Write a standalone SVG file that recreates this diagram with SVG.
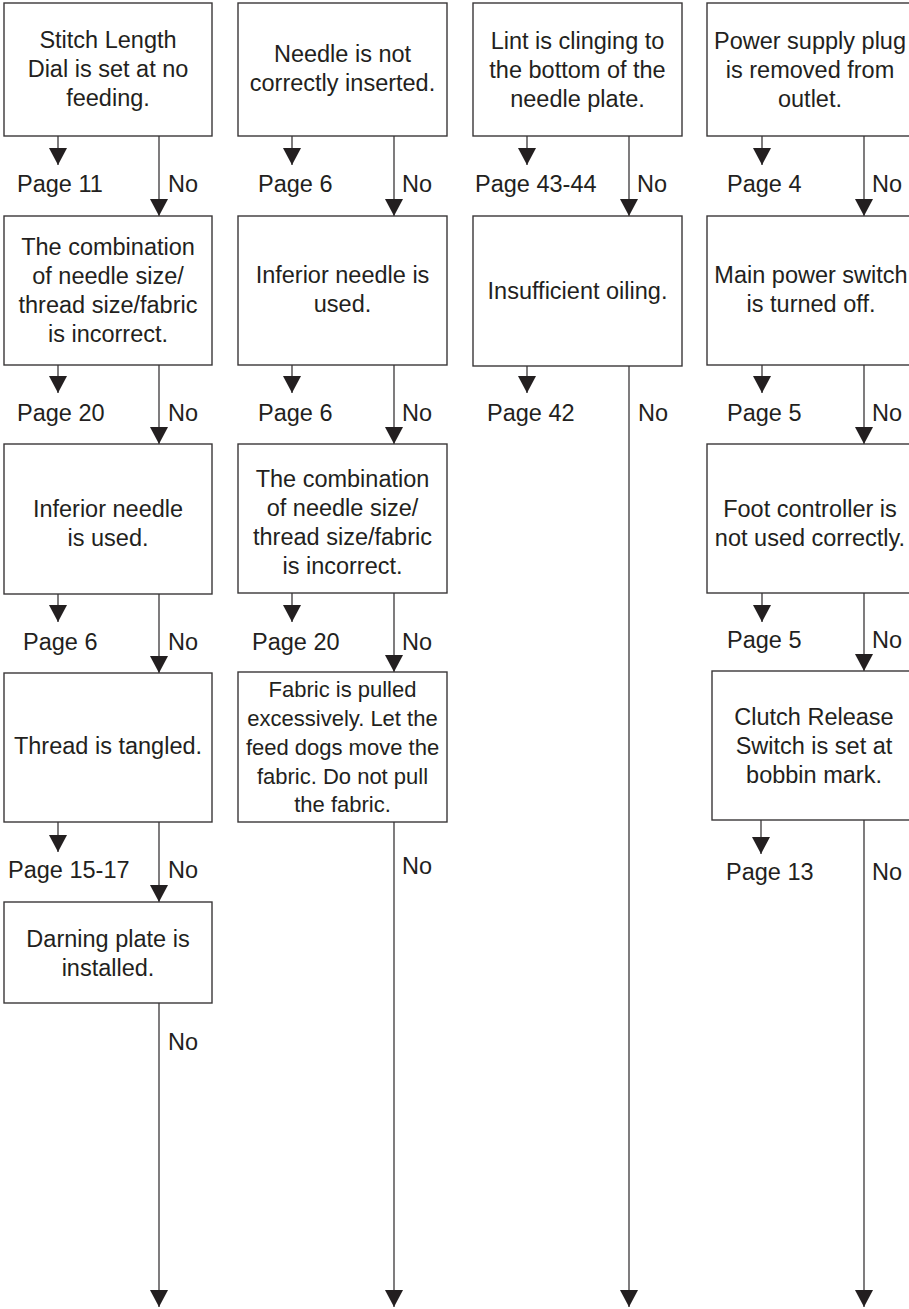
<svg xmlns="http://www.w3.org/2000/svg" width="909" height="1309" viewBox="0 0 909 1309">
<defs>
<style>
.box{fill:#fff;stroke:#3a3738;stroke-width:1.4}
.t{font-family:"Liberation Sans",Arial,Helvetica,sans-serif;font-size:23.5px;fill:#231f20}
.c{text-anchor:middle}
.s{font-size:22px}
.ln{stroke:#3a3738;stroke-width:1.3;fill:none;marker-end:url(#ah)}
</style>
<marker id="ah" markerUnits="userSpaceOnUse" markerWidth="18" markerHeight="18" refX="17" refY="9" orient="auto">
<path d="M0,0 L17,9 L0,18 Z" fill="#231f20"/>
</marker>
</defs>
<rect width="909" height="1309" fill="#fff"/>

<g id="connectors">
<!-- column 1 -->
<line class="ln" x1="58" y1="136" x2="58" y2="165"/>
<line class="ln" x1="58" y1="365" x2="58" y2="393"/>
<line class="ln" x1="58" y1="594" x2="58" y2="622"/>
<line class="ln" x1="58" y1="822" x2="58" y2="852"/>
<line class="ln" x1="159" y1="136" x2="159" y2="216"/>
<line class="ln" x1="159" y1="365" x2="159" y2="444"/>
<line class="ln" x1="159" y1="594" x2="159" y2="673"/>
<line class="ln" x1="159" y1="822" x2="159" y2="902"/>
<line class="ln" x1="159" y1="1003" x2="159" y2="1307"/>
<!-- column 2 -->
<line class="ln" x1="292" y1="136" x2="292" y2="165"/>
<line class="ln" x1="292" y1="365" x2="292" y2="393"/>
<line class="ln" x1="292" y1="593" x2="292" y2="622"/>
<line class="ln" x1="394" y1="136" x2="394" y2="216"/>
<line class="ln" x1="394" y1="365" x2="394" y2="444"/>
<line class="ln" x1="394" y1="593" x2="394" y2="672"/>
<line class="ln" x1="394" y1="822" x2="394" y2="1307"/>
<!-- column 3 -->
<line class="ln" x1="527" y1="136" x2="527" y2="165"/>
<line class="ln" x1="527" y1="366" x2="527" y2="393"/>
<line class="ln" x1="629" y1="136" x2="629" y2="216"/>
<line class="ln" x1="629" y1="366" x2="629" y2="1307"/>
<!-- column 4 -->
<line class="ln" x1="762" y1="136" x2="762" y2="165"/>
<line class="ln" x1="762" y1="365" x2="762" y2="393"/>
<line class="ln" x1="762" y1="593" x2="762" y2="622"/>
<line class="ln" x1="761" y1="820" x2="761" y2="854"/>
<line class="ln" x1="864" y1="136" x2="864" y2="216"/>
<line class="ln" x1="864" y1="365" x2="864" y2="444"/>
<line class="ln" x1="864" y1="593" x2="864" y2="671"/>
<line class="ln" x1="864" y1="820" x2="864" y2="1307"/>

<g id="labels">
<text class="t" x="17" y="192">Page 11</text>
<text class="t" x="168" y="192">No</text>
<text class="t" x="17" y="421">Page 20</text>
<text class="t" x="168" y="421">No</text>
<text class="t" x="23" y="650">Page 6</text>
<text class="t" x="168" y="650">No</text>
<text class="t" x="8" y="878">Page 15-17</text>
<text class="t" x="168" y="878">No</text>
<text class="t" x="168" y="1050">No</text>

<text class="t" x="258" y="192">Page 6</text>
<text class="t" x="402" y="192">No</text>
<text class="t" x="258" y="421">Page 6</text>
<text class="t" x="402" y="421">No</text>
<text class="t" x="252" y="650">Page 20</text>
<text class="t" x="402" y="650">No</text>
<text class="t" x="402" y="874">No</text>

<text class="t" x="475" y="192">Page 43-44</text>
<text class="t" x="637" y="192">No</text>
<text class="t" x="487" y="421">Page 42</text>
<text class="t" x="638" y="421">No</text>

<text class="t" x="727" y="192">Page 4</text>
<text class="t" x="872" y="192">No</text>
<text class="t" x="727" y="421">Page 5</text>
<text class="t" x="872" y="421">No</text>
<text class="t" x="727" y="648">Page 5</text>
<text class="t" x="872" y="648">No</text>
<text class="t" x="726" y="880">Page 13</text>
<text class="t" x="872" y="880">No</text>
</g>
</g>

<!-- column 1 nodes -->
<g id="n1a"><rect class="box" x="4" y="3" width="208" height="133"/>
<text class="t c" x="108" y="48">Stitch Length</text><text class="t c" x="108" y="77">Dial is set at no</text><text class="t c" x="108" y="106">feeding.</text></g>
<g id="n1b"><rect class="box" x="4" y="216" width="208" height="149"/>
<text class="t c" x="108" y="255">The combination</text><text class="t c" x="108" y="284">of needle size/</text><text class="t c" x="108" y="313">thread size/fabric</text><text class="t c" x="108" y="342">is incorrect.</text></g>
<g id="n1c"><rect class="box" x="4" y="444" width="208" height="150"/>
<text class="t c" x="108" y="517">Inferior needle</text><text class="t c" x="108" y="546">is used.</text></g>
<g id="n1d"><rect class="box" x="4" y="673" width="208" height="149"/>
<text class="t c" x="108" y="754">Thread is tangled.</text></g>
<g id="n1e"><rect class="box" x="4" y="902" width="208" height="101"/>
<text class="t c" x="108" y="947">Darning plate is</text><text class="t c" x="108" y="976">installed.</text></g>

<!-- column 2 nodes -->
<g id="n2a"><rect class="box" x="238" y="3" width="209" height="133"/>
<text class="t c" x="342.5" y="62">Needle is not</text><text class="t c" x="342.5" y="91">correctly inserted.</text></g>
<g id="n2b"><rect class="box" x="238" y="216" width="209" height="149"/>
<text class="t c" x="342.5" y="283">Inferior needle is</text><text class="t c" x="342.5" y="312">used.</text></g>
<g id="n2c"><rect class="box" x="238" y="444" width="209" height="149"/>
<text class="t c" x="342.5" y="487">The combination</text><text class="t c" x="342.5" y="516">of needle size/</text><text class="t c" x="342.5" y="545">thread size/fabric</text><text class="t c" x="342.5" y="574">is incorrect.</text></g>
<g id="n2d"><rect class="box" x="238" y="672" width="209" height="150"/>
<text class="t c s" x="342.5" y="697">Fabric is pulled</text><text class="t c s" x="342.5" y="726">excessively. Let the</text><text class="t c s" x="342.5" y="755">feed dogs move the</text><text class="t c s" x="342.5" y="784">fabric. Do not pull</text><text class="t c s" x="342.5" y="812">the fabric.</text></g>

<!-- column 3 nodes -->
<g id="n3a"><rect class="box" x="473" y="3" width="209" height="133"/>
<text class="t c" x="577.5" y="49">Lint is clinging to</text><text class="t c" x="577.5" y="78">the bottom of the</text><text class="t c" x="577.5" y="107">needle plate.</text></g>
<g id="n3b"><rect class="box" x="473" y="216" width="209" height="150"/>
<text class="t c" x="577.5" y="299">Insufficient oiling.</text></g>

<!-- column 4 nodes -->
<g id="n4a"><rect class="box" x="707" y="3" width="206" height="133"/>
<text class="t c" x="810" y="49">Power supply plug</text><text class="t c" x="810" y="78">is removed from</text><text class="t c" x="810" y="107">outlet.</text></g>
<g id="n4b"><rect class="box" x="707" y="216" width="206" height="149"/>
<text class="t c" x="811" y="283">Main power switch</text><text class="t c" x="811" y="312">is turned off.</text></g>
<g id="n4c"><rect class="box" x="707" y="444" width="206" height="149"/>
<text class="t c" x="810" y="517">Foot controller is</text><text class="t c" x="810" y="546">not used correctly.</text></g>
<g id="n4d"><rect class="box" x="712" y="671" width="201" height="149"/>
<text class="t c" x="814" y="725">Clutch Release</text><text class="t c" x="814" y="754">Switch is set at</text><text class="t c" x="814" y="783">bobbin mark.</text></g>
</svg>
